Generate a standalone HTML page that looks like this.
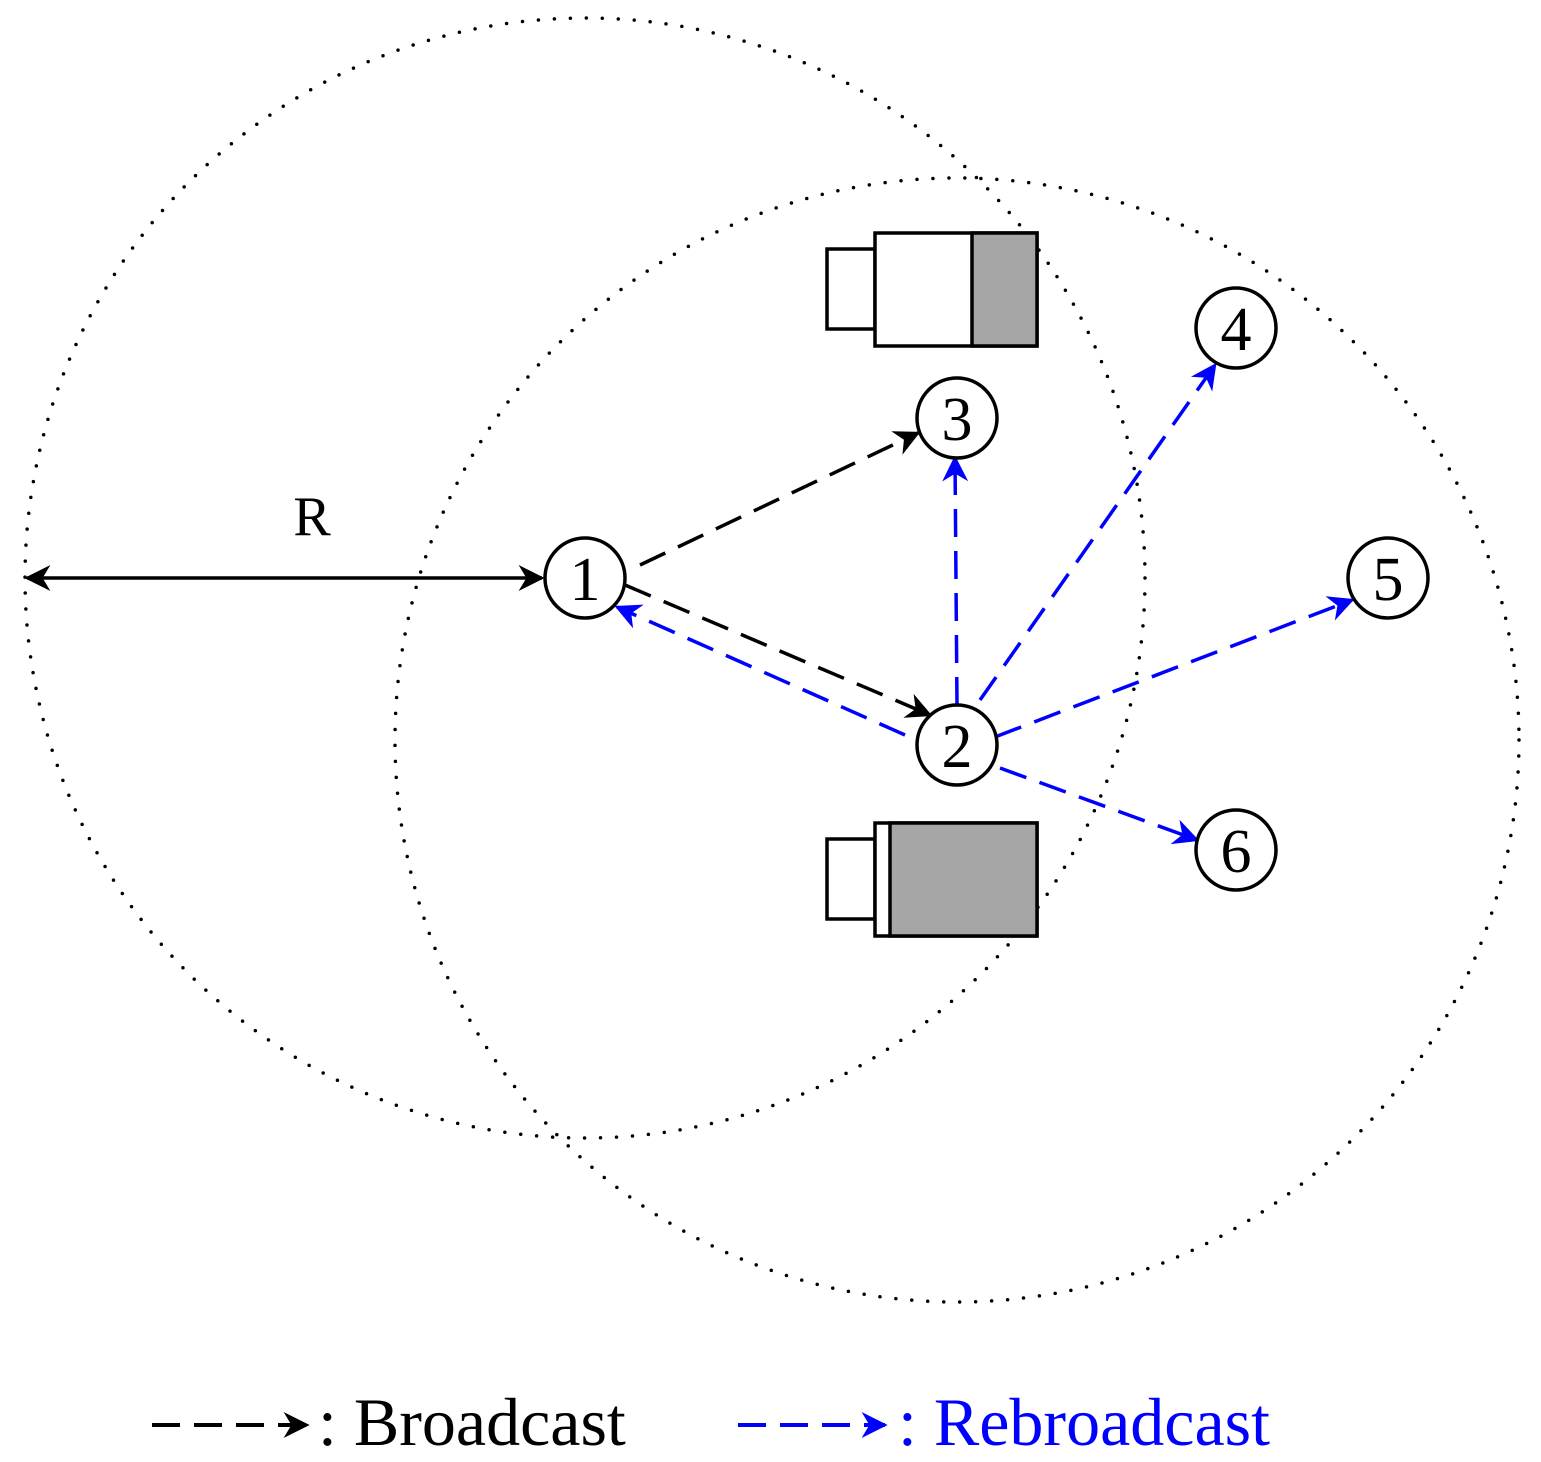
<!DOCTYPE html>
<html><head><style>html,body{margin:0;padding:0;background:#fff}svg{display:block}</style></head>
<body>
<svg width="1541" height="1462" viewBox="0 0 1541 1462" xmlns="http://www.w3.org/2000/svg" font-family="'Liberation Serif',serif">
<defs>
<marker id="ak" viewBox="0 0 10 10" refX="9" refY="5" markerWidth="30" markerHeight="26" markerUnits="userSpaceOnUse" orient="auto-start-reverse"><path d="M0,0 L10,5 L0,10 L3,5 z" fill="#000"/></marker>
<marker id="ab" viewBox="0 0 10 10" refX="9" refY="5" markerWidth="30" markerHeight="26" markerUnits="userSpaceOnUse" orient="auto"><path d="M0,0 L10,5 L0,10 L3,5 z" fill="#00f"/></marker>
</defs>
<g fill="none" stroke="#000" stroke-width="3.5" stroke-linecap="round" stroke-dasharray="0 16">
<circle cx="585" cy="578" r="560"/>
<circle cx="957" cy="740" r="562"/>
</g>
<g stroke="#000" stroke-width="3.5">
<rect x="827" y="249" width="48" height="80" fill="#fff"/>
<rect x="875" y="233" width="162" height="113" fill="#fff"/>
<rect x="972" y="233" width="65" height="113" fill="#a6a6a6"/>
<rect x="827" y="839" width="48" height="80" fill="#fff"/>
<rect x="875" y="823" width="162" height="113" fill="#fff"/>
<rect x="890" y="823" width="147" height="113" fill="#a6a6a6"/>
</g>
<line x1="27" y1="578" x2="542" y2="578" stroke="#000" stroke-width="3.5" marker-start="url(#ak)" marker-end="url(#ak)"/>
<text x="312" y="535" font-size="56" text-anchor="middle">R</text>
<g stroke-width="3.5" fill="none" stroke-dasharray="28 14">
<line x1="640" y1="565" x2="918" y2="433" stroke="#000" marker-end="url(#ak)"/>
<line x1="625" y1="585" x2="930" y2="715" stroke="#000" marker-end="url(#ak)"/>
<line x1="905" y1="735" x2="617" y2="607" stroke="#00f" marker-end="url(#ab)"/>
<line x1="957" y1="705" x2="955" y2="458" stroke="#00f" marker-end="url(#ab)"/>
<line x1="980" y1="700" x2="1215" y2="365" stroke="#00f" marker-end="url(#ab)"/>
<line x1="995" y1="737" x2="1352" y2="600" stroke="#00f" marker-end="url(#ab)"/>
<line x1="1000" y1="768" x2="1197" y2="840" stroke="#00f" marker-end="url(#ab)"/>
</g>
<g stroke="#000" stroke-width="3.5" fill="#fff">
<circle cx="585" cy="578" r="40"/>
<circle cx="957" cy="745" r="40"/>
<circle cx="957" cy="418" r="40"/>
<circle cx="1236" cy="328" r="40"/>
<circle cx="1388" cy="578" r="40"/>
<circle cx="1236" cy="850" r="40"/>
</g>
<g font-size="62" text-anchor="middle">
<text x="585" y="600">1</text>
<text x="957" y="767">2</text>
<text x="957" y="440">3</text>
<text x="1236" y="350">4</text>
<text x="1388" y="600">5</text>
<text x="1236" y="872">6</text>
</g>
<line x1="152" y1="1425" x2="307" y2="1425" stroke="#000" stroke-width="4" stroke-dasharray="28 14" marker-end="url(#ak)"/>
<text x="318" y="1445" font-size="68">: Broadcast</text>
<line x1="738" y1="1425" x2="885" y2="1425" stroke="#00f" stroke-width="4" stroke-dasharray="28 14" marker-end="url(#ab)"/>
<text x="898" y="1445" font-size="68" fill="#00f">: Rebroadcast</text>
</svg>
</body></html>
